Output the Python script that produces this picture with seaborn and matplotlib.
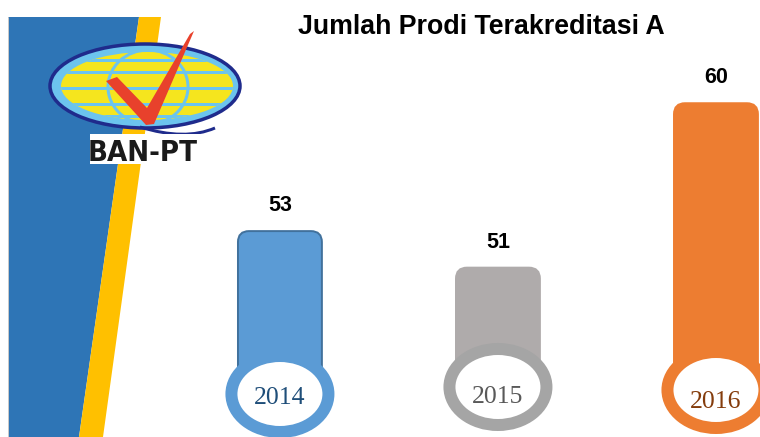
import numpy as np
import matplotlib
matplotlib.use("Agg")
import matplotlib.pyplot as plt
from matplotlib.patches import Ellipse, Polygon, Rectangle, FancyBboxPatch, PathPatch
from matplotlib.path import Path
from matplotlib.lines import Line2D
from matplotlib.transforms import Affine2D, blended_transform_factory
import seaborn as sns


#Data#
years = ["2014", "2015", "2016"]
counts = [53, 51, 60]
title = "Jumlah Prodi Terakreditasi A"


#Style#
bar_colors = ["#5b9bd5", "#afabab", "#ed7d31"]
edge_colors = ["#41719c", "#afabab", "#ed7d31"]
ring_colors = ["#5b9bd5", "#a5a5a5", "#ed7d31"]
year_colors = ["#1f4e79", "#595959", "#843c0c"]
ring_y = [394, 387, 390]   # ring centre, px from top
year_y = [398, 397, 402]   # year text, px from top

W, H = 760, 437
px = 0.72  # points per pixel at dpi 100

sns.set_theme(style="white")
plt.rcParams["font.family"] = ["Liberation Sans", "DejaVu Sans"]

fig = plt.figure(figsize=(W / 100, H / 100), dpi=100)
ax = fig.add_axes([0, 0, 1, 1])
# pixel coordinates (y down) for the decoration
pix = Affine2D().scale(1 / W, -1 / H).translate(0, 1) + fig.transFigure


#Bars#
sns.barplot(x=years, y=counts, hue=years, palette=bar_colors, saturation=1,
            width=0.385, legend=False, ax=ax)
ax.set_xlim(-1.284, 2.202)
ax.set_ylim(41.73, 65.65)
ax.axis("off")

sx = W / np.diff(ax.get_xlim())[0]
sy = H / np.diff(ax.get_ylim())[0]
mix = blended_transform_factory(ax.transData, ax.transAxes)
to_data = ax.transData.inverted()

bars = sorted(ax.patches, key=lambda p: p.get_x())
for i, p in enumerate(bars):
    xc = p.get_x() + p.get_width() / 2
    # bar starts at the ring centre instead of zero
    base = to_data.transform(mix.transform((xc, 1 - ring_y[i] / H)))[1]
    top = p.get_y() + p.get_height()
    rb = FancyBboxPatch((p.get_x(), base), p.get_width(), top - base,
                        boxstyle="round,pad=0,rounding_size=%f" % (11 / sx),
                        mutation_aspect=sx / sy, fc=bar_colors[i],
                        ec=edge_colors[i], lw=1.4, zorder=2)
    ax.add_patch(rb)
    p.set_visible(False)

    ring = Ellipse((xc, 1 - ring_y[i] / H), 97 / sx, 76 / H, transform=mix,
                   fc="white", ec=ring_colors[i], lw=12 * px, zorder=3, clip_on=False)
    ax.add_patch(ring)
    ax.text(xc, 1 - year_y[i] / H, years[i], transform=mix, ha="center", va="center",
            fontsize=18.5, family=["Liberation Serif", "DejaVu Serif"],
            color=year_colors[i], zorder=4)
    ax.annotate(str(counts[i]), (xc, top), xytext=(0, 20 * px),
                textcoords="offset points", ha="center", va="baseline",
                fontsize=15.5, fontweight="bold", color="black", zorder=4)

fig.text(481 / W, 1 - 34 / H, title, ha="center", va="baseline",
         fontsize=19.3, fontweight="bold", color="black")


#Left stripes#
ax.add_patch(Polygon([(8, 17), (139, 17), (79, 437), (8, 437)], closed=True,
                     transform=pix, fc="#2e75b6", ec="none", zorder=0.5, clip_on=False))
ax.add_patch(Polygon([(139, 17), (161, 17), (103, 437), (79, 437)], closed=True,
                     transform=pix, fc="#ffc000", ec="none", zorder=0.5, clip_on=False))
ax.add_line(Line2D([8, 8], [17, 437], transform=pix, color="#c8c8c8",
                   lw=1 * px, zorder=0.6, clip_on=False))


#Logo#
ax.add_patch(Ellipse((145, 86), 190, 84, transform=pix, fc="#6cc4ee",
                     ec="#1f2b8c", lw=3.5 * px, zorder=1, clip_on=False))
inner = Ellipse((147, 86), 172, 68, transform=pix, fc="#f5e51e", ec="none",
                zorder=1.1, clip_on=False)
ax.add_patch(inner)
for yy in [60, 72, 88, 104, 116]:
    ln = Line2D([50, 240], [yy, yy], transform=pix, color="#6cc4ee",
                lw=3 * px, zorder=1.2)
    ax.add_line(ln)
    ln.set_clip_path(inner)
ax.add_patch(Ellipse((148, 87), 80, 74, transform=pix, fc="none", ec="#6cc4ee",
                     lw=3 * px, zorder=1.3, clip_on=False))
ax.add_patch(Polygon([(106, 81), (117, 77), (147, 108), (190, 34), (194, 31),
                      (154, 124), (146, 125)], closed=True, transform=pix,
                     fc="#e8412c", ec="none", zorder=1.4, clip_on=False))
swoosh = Path([(140, 127), (185, 141), (215, 128)], [Path.MOVETO, Path.CURVE3, Path.CURVE3])
ax.add_patch(PathPatch(swoosh, transform=pix, fc="none", ec="#1f2b8c",
                       lw=3 * px, zorder=1.4, clip_on=False))
ax.add_patch(Rectangle((90, 134), 110, 30, transform=pix, fc="white", ec="none",
                       zorder=1.5, clip_on=False))
ax.text(143, 153, "BAN-PT", transform=pix, ha="center", va="center",
        fontsize=21, fontweight="bold", fontstretch="condensed",
        family=["Liberation Sans Narrow", "DejaVu Sans"], color="#1a1a1a",
        zorder=1.6, clip_on=False)

fig.savefig("out.png", dpi=100)
